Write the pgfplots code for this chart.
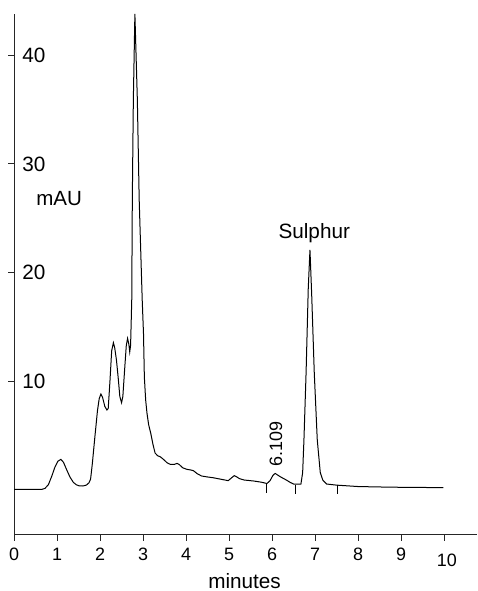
\documentclass[border=0pt]{standalone}
\usepackage{fontspec}
\setmainfont{Liberation Sans}
\usepackage{pgfplots}
\pgfplotsset{compat=1.18}
\begin{document}
\begin{tikzpicture}
\begin{axis}[
  scale only axis,
  width=231.6bp, height=260.3bp,
  xmin=0, xmax=10.77, ymin=-4.1, ymax=43.8,
  axis lines=left,
  axis line style={-, line width=0.5bp, black!85},
  clip=false,
  xtick={0,1,2,3,4,5,6,7,8,9,10},
  xticklabels={0,1,2,3,4,5,6,7,8,9,{\raisebox{-2.8bp}[\height][0pt]{\kern2.7bp 10}}},
  ytick={10,20,30,40},
  yticklabels={10,20,30,40},
  tick align=outside,
  major tick length=3bp,
  tick style={line width=0.5bp, black!85},
  xticklabel style={font=\fontsize{9}{10}\selectfont, anchor=north, yshift=-0.3bp},
  yticklabel style={font=\fontsize{10.4}{12}\selectfont, anchor=west, xshift=3.6bp},
]
\addplot[black, line width=0.5bp] coordinates {
(0,0.05) (0.64,0.05) (0.72,0.15) (0.80,0.5) (0.88,1.3) (0.95,2.1) (1.02,2.65)
(1.09,2.82) (1.15,2.55) (1.22,1.9) (1.30,1.2) (1.38,0.7) (1.45,0.48) (1.52,0.38)
(1.60,0.37) (1.68,0.45) (1.74,0.65) (1.78,1.0) (1.82,2.4) (1.88,4.9) (1.94,7.3)
(1.98,8.4) (2.02,8.83) (2.06,8.5) (2.11,7.7) (2.16,7.36) (2.19,7.5) (2.23,10.0)
(2.27,12.8) (2.31,13.55) (2.34,13.1) (2.38,12.0) (2.42,10.4) (2.46,8.6) (2.50,8.03)
(2.53,8.6) (2.57,11.0) (2.61,13.3) (2.64,13.95) (2.67,13.4) (2.69,12.7) (2.71,13.3)
(2.737,17.5) (2.75,26.7) (2.774,35.9) (2.81,43.8) (2.867,35.9) (2.91,26.7) (2.98,17.5)
(3.01,14.4) (3.03,10.4) (3.06,8.3) (3.09,7.1) (3.13,6.0) (3.18,5.2) (3.23,4.2)
(3.28,3.4) (3.34,3.15) (3.40,3.06) (3.48,2.8) (3.56,2.5) (3.64,2.35) (3.72,2.35)
(3.79,2.45) (3.84,2.35) (3.92,2.05) (4.02,1.9) (4.10,1.85) (4.17,1.78) (4.26,1.5)
(4.36,1.29) (4.50,1.2) (4.63,1.13) (4.80,1.0) (4.98,0.86) (5.05,1.1) (5.12,1.32)
(5.18,1.2) (5.24,1.05) (5.35,0.92) (5.57,0.83) (5.75,0.72) (5.88,0.6) (5.95,0.85)
(6.02,1.35) (6.07,1.53) (6.12,1.4) (6.20,1.2) (6.26,1.07) (6.34,0.9) (6.42,0.7)
(6.50,0.55) (6.67,0.55) (6.71,1.6) (6.74,4.6) (6.79,10.8) (6.84,18.5) (6.88,22.1)
(6.92,18.0) (6.98,10.8) (7.05,4.6) (7.12,1.6) (7.18,0.9) (7.27,0.55) (7.5,0.45)
(8.0,0.32) (8.5,0.28) (9.0,0.25) (9.98,0.22)
};
% integration markers
\addplot[black, line width=0.5bp] coordinates {(5.88,0.64) (5.88,-0.28)};
\addplot[black, line width=0.5bp] coordinates {(6.55,0.46) (6.55,-0.35)};
\addplot[black, line width=0.5bp] coordinates {(7.51,0.46) (7.51,-0.4)};
\node[anchor=base west, inner sep=0pt, font=\fontsize{10.3}{12}\selectfont] at (axis cs:0.51,26.2) {mAU};
\node[anchor=base, inner sep=0pt, font=\fontsize{10.4}{12}\selectfont] at (axis cs:6.98,23.1) {Sulphur};
\node[rotate=90, inner sep=0pt, font=\fontsize{9}{10}\selectfont] at (axis cs:6.09,4.23) {6.109};
\node[anchor=base, inner sep=0pt, font=\fontsize{10.4}{12}\selectfont] at (axis cs:5.36,-9.05) {minutes};
\coordinate (bbsw) at (axis cs:-0.326,-9.29);
\coordinate (bbne) at (axis cs:10.77,45.08);
\end{axis}
\pgfresetboundingbox
\useasboundingbox (bbsw) rectangle (bbne);
\end{tikzpicture}
\end{document}
